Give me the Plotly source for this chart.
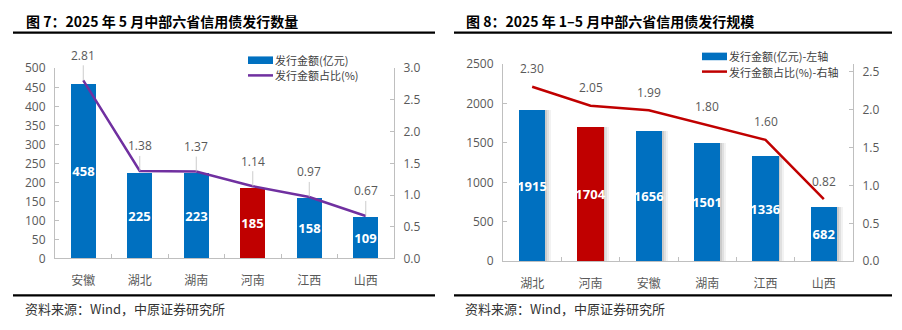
import plotly.graph_objects as go

W, H = 902, 330

# ---------------- data ----------------
cats7 = ["安徽", "湖北", "湖南", "河南", "江西", "山西"]
amt7 = [458, 225, 223, 185, 158, 109]
pct7 = [2.81, 1.38, 1.37, 1.14, 0.97, 0.67]

cats8 = ["湖北", "河南", "安徽", "湖南", "江西", "山西"]
amt8 = [1915, 1704, 1656, 1501, 1336, 682]
pct8 = [2.30, 2.05, 1.99, 1.80, 1.60, 0.82]

highlight = "河南"
title7 = "图 7：2025 年 5 月中部六省信用债发行数量"
title8 = "图 8：2025 年 1–5 月中部六省信用债发行规模"
source = "资料来源：Wind，中原证券研究所"
leg7 = ["发行金额(亿元)", "发行金额占比(%)"]
leg8 = ["发行金额(亿元)-左轴", "发行金额占比(%)-右轴"]

BLUE = "#0070C0"
RED = "#C00000"
PURPLE = "#7030A0"
GRAY = "#595959"
AXC = "#BFBFBF"
CJK = "Noto Sans CJK SC"
NUM = "Open Sans"
BARW = 0.45


def px_x(x):
    return x / W


def px_y(y):
    return 1 - y / H


fig = go.Figure()

# ---------- chart 7 ----------
fig.add_trace(go.Bar(
    x=cats7, y=amt7, xaxis="x", yaxis="y",
    marker=dict(color=[RED if c == highlight else BLUE for c in cats7], line=dict(width=0)),
    width=BARW,
    text=[str(v) for v in amt7], textposition="inside", insidetextanchor="middle",
    textangle=0, constraintext="none",
    textfont=dict(color="white", size=13, family=NUM, weight="bold"),
    showlegend=False, hoverinfo="skip",
))
fig.add_trace(go.Scatter(
    x=cats7, y=pct7, xaxis="x", yaxis="y2", mode="lines",
    line=dict(color=PURPLE, width=2.5), showlegend=False, hoverinfo="skip",
))

# ---------- chart 8 (soft shadow behind bars) ----------
for k, op in ((3, 0.05), (2, 0.07), (1, 0.09)):
    fig.add_trace(go.Bar(
        x=cats8, y=amt8, xaxis="x2", yaxis="y3",
        marker=dict(color=f"rgba(0,0,0,{op})", line=dict(width=0)),
        width=BARW + 0.02 * k, offset=-BARW / 2 + 0.012 * k,
        showlegend=False, hoverinfo="skip",
    ))
fig.add_trace(go.Bar(
    x=cats8, y=amt8, xaxis="x2", yaxis="y3",
    marker=dict(color=[RED if c == highlight else BLUE for c in cats8], line=dict(width=0)),
    width=BARW, offset=-BARW / 2,
    text=[str(v) for v in amt8], textposition="inside", insidetextanchor="middle",
    textangle=0, constraintext="none",
    textfont=dict(color="white", size=13, family=NUM, weight="bold"),
    showlegend=False, hoverinfo="skip",
))
fig.add_trace(go.Scatter(
    x=cats8, y=pct8, xaxis="x2", yaxis="y4", mode="lines",
    line=dict(color=RED, width=2.5), showlegend=False, hoverinfo="skip",
))

annotations = []
for c, v in zip(cats7, pct7):
    annotations.append(dict(
        x=c, y=v, xref="x", yref="y2", text=f"{v:.2f}",
        showarrow=True, arrowhead=0, arrowwidth=0.8, arrowcolor="#BFBFBF",
        ax=0, ay=-25, standoff=0,
        font=dict(size=12, color=GRAY, family=NUM),
    ))
for c, v in zip(cats8, pct8):
    annotations.append(dict(
        x=c, y=v, xref="x2", yref="y4", text=f"{v:.2f}",
        showarrow=False, yshift=18,
        font=dict(size=12, color=GRAY, family=NUM),
    ))

# titles
annotations.append(dict(x=px_x(24), y=px_y(13), xref="paper", yref="paper", text=f"<b>{title7}</b>",
                        showarrow=False, xanchor="left", yanchor="middle",
                        font=dict(size=14, color="black", family=CJK)))
annotations.append(dict(x=px_x(464), y=px_y(13), xref="paper", yref="paper", text=f"<b>{title8}</b>",
                        showarrow=False, xanchor="left", yanchor="middle",
                        font=dict(size=14, color="black", family=CJK)))
# sources
for sx in (23, 463):
    annotations.append(dict(x=px_x(sx), y=px_y(316), xref="paper", yref="paper", text=source,
                            showarrow=False, xanchor="left", yanchor="middle",
                            font=dict(size=13, color="#333333", family=CJK)))

shapes = []
# title rules and bottom rules
for (x0, x1) in ((13, 435), (454, 892)):
    for yy in (25, 302):
        shapes.append(dict(type="line", xref="paper", yref="paper",
                           x0=px_x(x0), x1=px_x(x1), y0=px_y(yy), y1=px_y(yy),
                           line=dict(color="black", width=2.2)))


# manual legends
def legend(x0, ybar, yline, labels, linecolor):
    shapes.append(dict(type="rect", xref="paper", yref="paper",
                       x0=px_x(x0), x1=px_x(x0 + 25), y0=px_y(ybar + 4), y1=px_y(ybar - 4),
                       fillcolor=BLUE, line=dict(width=0)))
    shapes.append(dict(type="line", xref="paper", yref="paper",
                       x0=px_x(x0), x1=px_x(x0 + 25), y0=px_y(yline), y1=px_y(yline),
                       line=dict(color=linecolor, width=2.5)))
    for t, yy in zip(labels, (ybar, yline)):
        annotations.append(dict(x=px_x(x0 + 26), y=px_y(yy), xref="paper", yref="paper", text=t,
                                showarrow=False, xanchor="left", yanchor="middle",
                                borderpad=0,
                                font=dict(size=11, color="#404040", family=CJK)))


legend(248, 54, 70, leg7, PURPLE)
legend(702, 50, 66, leg8, RED)

ytick = dict(tickfont=dict(size=12, color=GRAY, family=NUM), showgrid=False, zeroline=False,
             showline=True, linecolor=AXC, linewidth=1, ticks="inside", ticklen=4, tickcolor=AXC,
             ticklabelstandoff=6)
xax = dict(type="category", showgrid=False, zeroline=False, showline=True, linecolor=AXC, linewidth=1,
           ticks="inside", ticklen=4, tickcolor=AXC, tickson="boundaries",
           tickfont=dict(size=12, color=GRAY, family=CJK), ticklabelstandoff=11)

fig.update_layout(
    width=W, height=H, margin=dict(l=0, r=0, t=0, b=0),
    paper_bgcolor="white", plot_bgcolor="white",
    barmode="overlay", bargap=0,
    xaxis=dict(domain=[px_x(55), px_x(394)], anchor="y", **xax),
    yaxis=dict(domain=[px_y(263), px_y(62.5)], anchor="x", range=[0, 500], dtick=50, **ytick),
    yaxis2=dict(overlaying="y", side="right", anchor="x", range=[0, 3.0], dtick=0.5, tickformat=".1f", **ytick),
    xaxis2=dict(domain=[px_x(503), px_x(853)], anchor="y3", **xax),
    yaxis3=dict(domain=[px_y(266), px_y(58)], anchor="x2", range=[0, 2500], dtick=500, **ytick),
    yaxis4=dict(overlaying="y3", side="right", anchor="x2", range=[0, 2.6], dtick=0.5, tickformat=".1f", **ytick),
    annotations=annotations,
    shapes=shapes,
)

fig.write_html("out.html")
